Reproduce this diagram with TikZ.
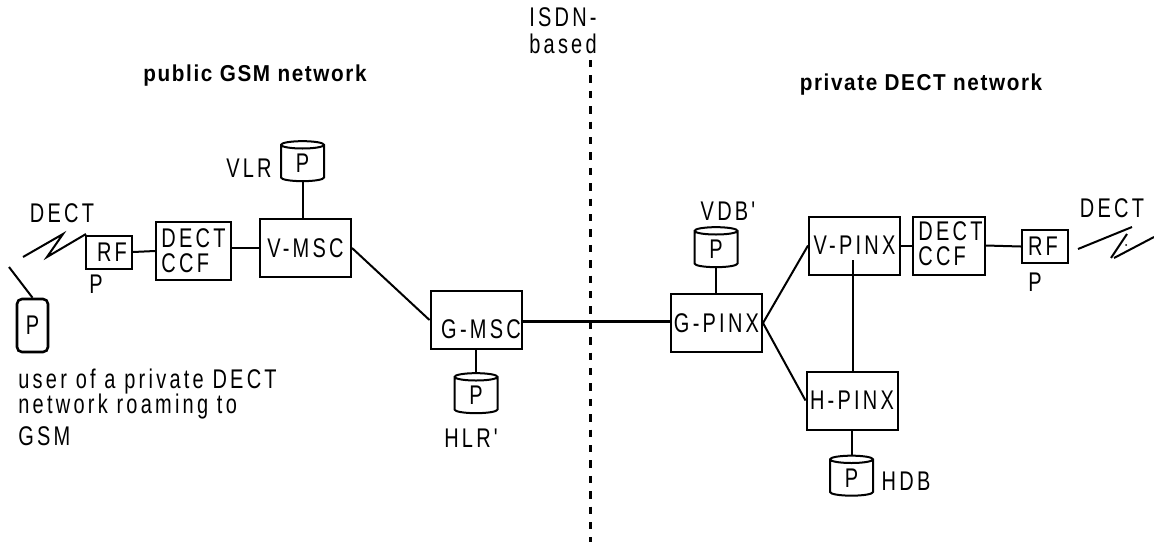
\documentclass[tikz,border=0pt]{standalone}
\usepackage{fontspec}
\setmainfont{Liberation Sans}
\newfontfamily\diafont[LetterSpace=12,FakeStretch=0.74]{Liberation Sans}
\newfontfamily\headfont[LetterSpace=7,FakeStretch=0.9]{Liberation Sans}
\newcommand{\dbp}{\raisebox{-2.5pt}{P}}
\usetikzlibrary{shapes.geometric}
\tikzset{
  txt/.style={font=\fontsize{13.5}{13}\diafont,inner sep=0pt,align=left},
  headtxt/.style={font=\fontsize{11.5}{12}\headfont\bfseries,inner sep=0pt},
  unitbox/.style={draw,line width=1pt,minimum width=45.5pt,minimum height=29pt,inner sep=0pt},
  rfbox/.style={draw,line width=1pt,minimum width=23pt,minimum height=16.5pt,inner sep=0pt},
  ccfbox/.style={draw,line width=1pt,minimum height=29pt,inner sep=0pt},
  dbase/.style={draw,cylinder,shape border rotate=90,shape aspect=0.55,line width=1pt,
    minimum width=21.5pt,minimum height=20pt,inner sep=0pt,font=\fontsize{13.5}{13}\diafont},
  conn/.style={line width=1pt},
}
\begin{document}
\begin{tikzpicture}[x=0.5pt,y=-0.5pt]
\useasboundingbox (0,0) rectangle (1154,542);

% headings and the boundary
\node [headtxt] (pubhead) at (255,75.5) {public GSM network};
\node [headtxt] (privhead) at (921,84.5) {private DECT network};
\node [txt] (isdn) at (563,31) {ISDN-\\[0.5pt]based};
\coordinate (bndtop) at (590,60);
\coordinate (bndbot) at (590,542);
\draw [line width=1.5pt,dash pattern=on 3.7pt off 4pt] (bndtop) -- (bndbot);

% public side
\node [draw,rounded corners=2.5pt,line width=1.3pt,minimum width=15.5pt,minimum height=26.5pt,inner sep=0pt,font=\fontsize{13.5}{13}\diafont] (phone) at (32.5,325.5) {P};
\coordinate (antenna) at (9,267);
\draw [conn] (antenna) -- (phone.north);
\node [txt,anchor=north west] (usertxt) at (18,369) {user of a private DECT\\[-0.5pt]network roaming to\\[3pt]GSM};
\node [txt] (ldect) at (62,213) {DECT};
\coordinate (lz1) at (23,257);
\coordinate (lz2) at (63,234);
\coordinate (lz3) at (47,257);
\coordinate (lz4) at (86,234);
\draw [conn] (lz1) -- (lz2) -- (lz3) -- (lz4);
\node [rfbox,label={[txt]center:\hspace{3pt}RF}] (lrf) at (109,252) {};
\node [txt] (lrfp) at (96,284) {P};
\node [ccfbox,minimum width=37.5pt,align=center,txt] (lccf) at (193.5,251) {DECT\\[-0.5pt]CCF};
\node [unitbox,txt] (vmsc) at (305.5,248) {V-MSC};
\node [dbase] (vlr) at (302.5,163.5) {\dbp};
\node [txt] (vlrtxt) at (249,168) {VLR};
\node [unitbox,label={[txt,xshift=2.5pt,yshift=-4.5pt]center:G-MSC}] (gmsc) at (476,320) {};
\node [dbase] (hlr) at (476,395.5) {\dbp};
\node [txt] (hlrtxt) at (471,438) {HLR'};
\draw [conn] (lrf.east) -- (lccf.west);
\draw [conn] (lccf.east |- vmsc.west) -- (vmsc.west);
\draw [conn] (vlr.south) -- (vlr.south |- vmsc.north);
\draw [conn] (vmsc.east) -- (gmsc.west);
\draw [conn] (gmsc.south) -- (gmsc.south |- hlr.north);

% private side
\node [unitbox,txt] (gpinx) at (716.5,323) {G-PINX};
\node [dbase] (vdb) at (716,249.5) {\dbp};
\node [txt] (vdbtxt) at (728,211) {VDB'};
\node [unitbox,txt] (vpinx) at (854.5,245.5) {V-PINX};
\node [unitbox,txt] (hpinx) at (852,400.5) {H-PINX};
\node [ccfbox,minimum width=36pt] (rccf) at (949,245.5) {};
\node [txt,anchor=north west] (rccftxt) at (918,221) {DECT\\[-0.5pt]CCF};
\node [rfbox,label={[txt]center:\hspace{-2pt}RF}] (rrf) at (1045,246.5) {};
\node [txt] (rrfp) at (1035,282) {P};
\node [txt] (rdect) at (1112,208) {DECT};
\node [dbase] (hdb) at (851.5,478) {\dbp};
\node [txt] (hdbtxt) at (906,481) {HDB};
\coordinate (vpinxlow) at (853,260);
\coordinate (rz1) at (1078,249);
\coordinate (rz2) at (1132,227);
\coordinate (rz3) at (1127,234);
\coordinate (rz4) at (1111,258);
\coordinate (rz5) at (1114,258);
\coordinate (rz6) at (1154,237);
\coordinate (rzdot) at (1126,245);
\draw [line width=1.5pt] (gmsc.east |- 521,321) -- (671,321);
\draw [conn] (vdb.south) -- (vdb.south |- gpinx.north);
\draw [conn] (gpinx.east) -- (vpinx.west);
\draw [conn] (gpinx.east) -- (hpinx.west);
\draw [conn] (vpinxlow) -- (vpinxlow |- hpinx.north);
\draw [conn] (vpinx.east) -- (rccf.west);
\draw [conn] (rccf.east) -- (rrf.west);
\draw [conn] (hpinx.south) -- (hpinx.south |- hdb.north);
\draw [conn] (rz1) -- (rz2);
\draw [conn] (rz3) -- (rz4);
\draw [conn] (rz5) -- (rz6);
\fill (rzdot) circle [radius=1];

\end{tikzpicture}
\end{document}
